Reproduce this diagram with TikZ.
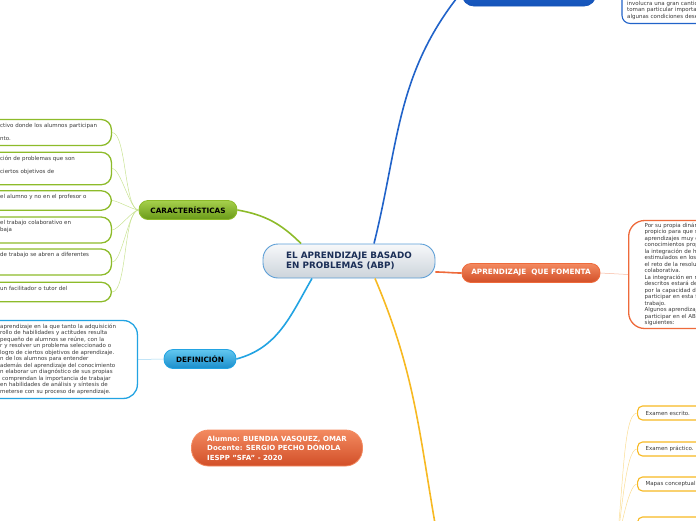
\documentclass[tikz,border=0pt]{standalone}
\usepackage{fontspec}
\setmainfont{DejaVu Sans}
\usepackage{xcolor}
\usepackage{tikz}
\usetikzlibrary{fit, backgrounds, calc}

\definecolor{abpnavy}{HTML}{1B2F57}
\definecolor{abpedge}{HTML}{5C9ED6}
\definecolor{abptop}{HTML}{F7F8FA}
\definecolor{abpbot}{HTML}{CCD4DB}
\definecolor{cargreen}{HTML}{8DBB2A}
\definecolor{cartop}{HTML}{A6D04C}
\definecolor{carbot}{HTML}{6A9A18}
\definecolor{cartwig}{HTML}{C9E393}
\definecolor{defblue}{HTML}{22A3E2}
\definecolor{deftop}{HTML}{62C8F0}
\definecolor{defbot}{HTML}{1A8DCB}
\definecolor{deftwig}{HTML}{9FD6F2}
\definecolor{fomorange}{HTML}{EE6A3B}
\definecolor{fomtop}{HTML}{F38A60}
\definecolor{fombot}{HTML}{D24F28}
\definecolor{fomtwig}{HTML}{F8B8A0}
\definecolor{evalyellow}{HTML}{F7B922}
\definecolor{evaltwig}{HTML}{FBDD94}
\definecolor{topblue}{HTML}{2163C9}
\definecolor{topdark}{HTML}{1554BA}
\definecolor{leafgray}{HTML}{3A3A3A}

\newcommand\leaffont{\fontsize{5.5}{6.5}\selectfont}
\newcommand\topicfont{\bfseries\fontsize{7.3}{8.5}\selectfont}

\begin{document}
\begin{tikzpicture}[x=1pt, y=1pt,
      central/.style={rectangle, rounded corners=15pt, draw=abpedge, line width=0.9pt,
                      top color=abptop, bottom color=abpbot, text=abpnavy,
                      minimum width=172pt, minimum height=34pt, align=left,
                      font=\bfseries\fontsize{8.8}{10}\selectfont},
      topic/.style={rectangle, rounded corners=9pt, line width=0.8pt,
                    minimum height=19pt, font=\topicfont},
      leaftext/.style={inner sep=0pt, align=left, text=leafgray, font=\leaffont,
                       execute at begin node=\strut, execute at end node=\strut},
      leafbox/.style={rectangle, fill=white, line width=1.3pt, inner xsep=4pt, inner ysep=3pt},
      evalbox/.style={rectangle, draw=evalyellow, fill=white, line width=1.1pt,
                      rounded corners=5pt, text width=80pt, minimum height=14pt,
                      inner xsep=8pt, inner ysep=2pt, align=left, text=leafgray, font=\leaffont},
      branch/.style={line width=1.6pt},
      twig/.style={line width=0.5pt}
    ]
    \path[use as bounding box] (0,0) rectangle (696,-520);
    \clip (0,0) rectangle (696,-520);

    % Central topic and main topics
    \node[central] (abp) at (349,-261) {EL APRENDIZAJE BASADO\\EN PROBLEMAS (ABP)};
    \node[topic, draw=cargreen, top color=cartop, bottom color=carbot, minimum width=98pt] (car) at (188,-210) {CARACTERÍSTICAS};
    \node[topic, draw=defblue, top color=deftop, bottom color=defbot, minimum width=72pt] (def) at (200,-359) {DEFINICIÓN};
    \node[topic, draw=fomorange, top color=fomtop, bottom color=fombot, text=white, minimum width=138pt] (fom) at (531,-273) {APRENDIZAJE\ \ QUE FOMENTA};
    \node[topic, draw=topdark, top color=topblue, bottom color=topdark, minimum width=134pt, minimum height=28pt, rounded corners=12pt] (top) at (529,8) {};
    \node[topic, draw=fomtop, top color=fomtop, bottom color=fombot, text=white,
          minimum width=171pt, minimum height=36pt, rounded corners=17pt, align=left,
          font=\bfseries\fontsize{7}{9.4}\selectfont] (alumno) at (277,-448)
      {Alumno: BUENDIA VASQUEZ, OMAR\\Docente: SERGIO PECHO DÓNOLA\\IESPP "SFA" - 2020};

    % Características (texts cut by the left edge)
    \node[leaftext, text width=107pt, anchor=west] (car1) at (0,-132.5)
      {ctivo donde los alumnos participan\\ \mbox{}\\ nto.};
    \node[leaftext, text width=107pt, anchor=west] (car2) at (0,-168.5)
      {ción de problemas que son\\ \mbox{}\\ ciertos objetivos de\\ \mbox{}};
    \node[leaftext, text width=107pt, anchor=west] (car3) at (0,-200.5)
      {el alumno y no en el profesor o\\ \mbox{}};
    \node[leaftext, text width=107pt, anchor=west] (car4) at (0,-230)
      {el trabajo colaborativo en\\ baja\\ \mbox{}};
    \node[leaftext, text width=107pt, anchor=west] (car5) at (0,-262)
      {de trabajo se abren a diferentes\\ \mbox{}\\ \mbox{}};
    \node[leaftext, text width=107pt, anchor=west] (car6) at (0,-292)
      {un facilitador o tutor del\\ \mbox{}};

    % Definición
    \node[leaftext, text width=125pt, anchor=west] (deftxt) at (0,-359.5)
      {aprendizaje en la que tanto la adquisición\\
       rollo de habilidades y actitudes resulta\\
       pequeño de alumnos se reúne, con la\\
       r y resolver un problema seleccionado o\\
       logro de ciertos objetivos de aprendizaje.\\
       n de los alumnos para entender\\
       además del aprendizaje del conocimiento\\
       n elaborar un diagnóstico de sus propias\\
       \hspace*{2pt}comprendan la importancia de trabajar\\
       en habilidades de análisis y síntesis de\\
       meterse con su proceso de aprendizaje.};

    % Top right box, cut by the top and right edges
    \node[leaftext, text width=100pt, anchor=west] (sittxt) at (627,-10.5)
      {involucra una gran cantic\\ toman particular importa\\ algunas condiciones dese};

    % Aprendizaje que fomenta
    \node[leaftext, text width=80pt, anchor=west, draw=fomorange, fill=white, line width=1.3pt,
          rounded corners=16pt, inner xsep=16pt, inner ysep=2pt] (fombox) at (628,-274.5)
      {Por su propia dinám\\ propicio para que s\\ aprendizajes muy d\\ conocimientos prop\\
       la integración de h\\ estimulados en los\\ el reto de la resolu\\ colaborativa.\\
       La integración en n\\ descritos estará de\\ por la capacidad de\\ participar en esta f\\
       trabajo.\\ Algunos aprendizaj\\ participar en el AB\\ siguientes:};

    % Evaluation leaves (yellow)
    \node[evalbox, anchor=west] (ev1) at (637,-413) {Examen escrito.};
    \node[evalbox, anchor=west] (ev2) at (637,-449) {Examen práctico.};
    \node[evalbox, anchor=west] (ev3) at (637,-484) {Mapas conceptual};
    \node[evalbox, anchor=west] (ev4) at (637,-524) {};
    \coordinate (evalend) at (437,-535);
    \coordinate (evalhub) at (613,-570);

    % Boxes behind the cut texts
    \begin{scope}[on background layer]
      \node[leafbox, draw=cargreen, rounded corners=10pt, fit={(car1) ($(car1.west)+(-40,0)$)}] (car1box) {};
      \node[leafbox, draw=cargreen, rounded corners=10pt, fit={(car2) ($(car2.west)+(-40,0)$)}] (car2box) {};
      \node[leafbox, draw=cargreen, rounded corners=10pt, fit={(car3) ($(car3.west)+(-40,0)$)}] (car3box) {};
      \node[leafbox, draw=cargreen, rounded corners=10pt, fit={(car4) ($(car4.west)+(-40,0)$)}] (car4box) {};
      \node[leafbox, draw=cargreen, rounded corners=10pt, fit={(car5) ($(car5.west)+(-40,0)$)}] (car5box) {};
      \node[leafbox, draw=cargreen, rounded corners=10pt, fit={(car6) ($(car6.west)+(-40,0)$)}] (car6box) {};
      \node[leafbox, draw=defblue, rounded corners=14pt, inner xsep=12pt, fit={(deftxt) ($(deftxt.west)+(-40,0)$)}] (defbox) {};
      \node[leafbox, draw=topblue, line width=1.1pt, rounded corners=8pt, inner xsep=5pt, fit={(sittxt) ($(sittxt.north west)+(0,40)$)}] (sitbox) {};
    \end{scope}

    % Main branches
    \draw[branch, cargreen] (car.east) to[out=-10, in=135] ([xshift=-48pt]abp.north);
    \draw[branch, defblue] (def.east) to[out=15, in=240] ([xshift=-37pt]abp.south);
    \draw[branch, topblue] ([xshift=25pt]abp.north) to[out=76, in=231] (top.west);
    \draw[branch, fomorange] ([yshift=-11pt]abp.east) to[out=0, in=180] (fom.west);
    \draw[branch, evalyellow] ([xshift=26pt]abp.south) to[out=-67, in=100] (evalend);

    % Thin links to the leaves
    \draw[twig, cartwig] (car.west) to[out=180, in=0, looseness=0.45] (car1box.east);
    \draw[twig, cartwig] (car.west) to[out=180, in=0, looseness=0.45] (car2box.east);
    \draw[twig, cartwig] (car.west) to[out=180, in=0, looseness=0.45] (car3box.east);
    \draw[twig, cartwig] (car.west) to[out=180, in=0, looseness=0.45] (car4box.east);
    \draw[twig, cartwig] (car.west) to[out=180, in=0, looseness=0.45] (car5box.east);
    \draw[twig, cartwig] (car.west) to[out=180, in=0, looseness=0.45] (car6box.east);
    \draw[twig, deftwig] (def.west) -- (defbox.east);
    \draw[twig, fomtwig] (fom.east) -- (fombox.west);
    \draw[twig, evaltwig] (evalhub) to[out=80, in=180, in looseness=0.25] (ev1.west);
    \draw[twig, evaltwig] (evalhub) to[out=80, in=180, in looseness=0.25] (ev2.west);
    \draw[twig, evaltwig] (evalhub) to[out=80, in=180, in looseness=0.25] (ev3.west);
    \draw[twig, evaltwig] (evalhub) to[out=80, in=180, in looseness=0.25] (ev4.west);

  \end{tikzpicture}
\end{document}
